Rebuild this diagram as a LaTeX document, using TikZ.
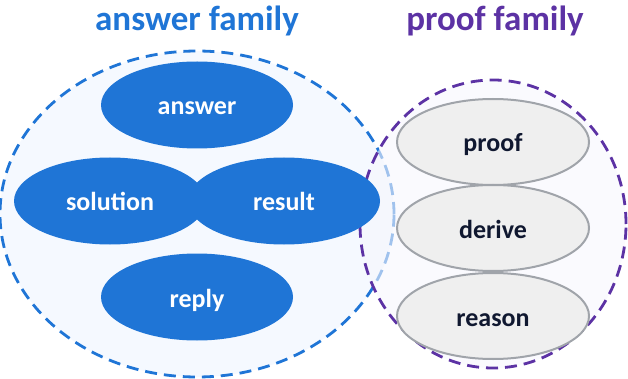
\documentclass[tikz,border=0pt]{standalone}
\usepackage{fontspec}
\setmainfont{Carlito}
\usetikzlibrary{shapes.geometric}
\definecolor{bluefill}{RGB}{31,117,214}
\definecolor{bluebg}{RGB}{245,249,255}
\definecolor{purp}{RGB}{92,50,164}
\definecolor{purpbg}{RGB}{246,246,253}
\definecolor{grayfill}{RGB}{239,239,239}
\definecolor{graydraw}{RGB}{160,164,170}
\definecolor{navy}{RGB}{16,24,48}
\tikzset{
  blueword/.style={ellipse, fill=bluefill, minimum width=192pt, minimum height=87pt, inner sep=0pt, text height=20pt, text depth=0pt, text=white, font=\bfseries\fontsize{26}{29}\selectfont},
  grayword/.style={ellipse, fill=grayfill, draw=graydraw, line width=2pt, minimum width=192pt, minimum height=86pt, inner sep=0pt, text height=20pt, text depth=0pt, text=navy, font=\bfseries\fontsize{26}{29}\selectfont},
  title/.style={font=\bfseries\fontsize{35}{38}\selectfont},
  groupline/.style={line width=2.8pt, dash pattern=on 12pt off 7pt},
}
\begin{document}
\begin{tikzpicture}[x=1pt,y=-1pt]
\useasboundingbox (0,0) rectangle (628,379);
% blue group
\node[ellipse, groupline, draw=bluefill, fill=bluebg, minimum width=394pt, minimum height=326pt, inner sep=0pt] (bluegroup) at (197,214) {};
% purple group
\node[ellipse, groupline, draw=purp, fill=purpbg, fill opacity=0.6, draw opacity=1, minimum width=266pt, minimum height=288pt, inner sep=0pt] (purplegroup) at (493,224) {};
\node[title, text=bluefill] (bluetitle) at (197,21) {answer family};
\node[title, text=purp] (purpletitle) at (495,21) {proof family};
% blue words
\node[blueword] (answer) at (197,105) {answer};
\node[blueword] (solution) at (110,201) {solution};
\node[blueword] (result) at (284,201) {result};
\node[blueword] (reply) at (197,297) {reply};
% gray words
\node[grayword] (proof) at (493,142) {proof};
\node[grayword] (derive) at (493,228) {derive};
\node[grayword] (reason) at (493,316) {reason};
\end{tikzpicture}
\end{document}
